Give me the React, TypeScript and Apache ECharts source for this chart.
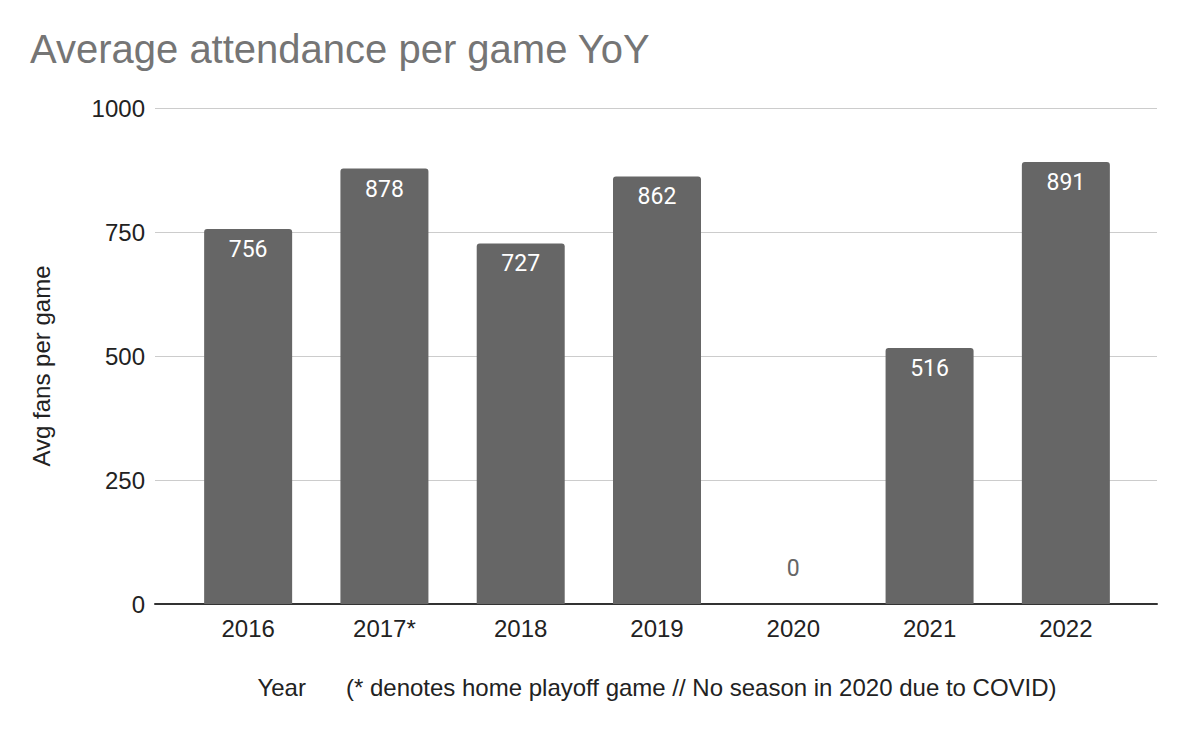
import React, { useEffect, useRef } from "react";
import * as echarts from "echarts";

const title = "Average attendance per game YoY";
const years = ["2016", "2017*", "2018", "2019", "2020", "2021", "2022"];
const attendance = [756, 878, 727, 862, 0, 516, 891];
const yTicks = { min: 0, max: 1000, interval: 250 };
const yAxisTitle = "Avg fans per game";
const xAxisTitle = "Year";
const xAxisNote = "(* denotes home playoff game // No season in 2020 due to COVID)";

export default function App() {
  const ref = useRef<HTMLDivElement>(null);
  useEffect(() => {
    document.body.style.margin = "0";
    const chart = echarts.init(ref.current!, null, { renderer: "svg" });
    const sans = "'Liberation Sans', Arial, sans-serif";
    const labelFont = "Roboto, 'Noto Sans', sans-serif";
    chart.setOption({
      animation: false,
      backgroundColor: "#ffffff",
      title: {
        text: title,
        left: 30,
        top: 29,
        padding: 0,
        textStyle: { fontFamily: sans, fontSize: 40, fontWeight: "normal", color: "#757575" },
      },
      grid: [
        { left: 155, right: 33, top: 108, bottom: 128 },
        { left: 180, right: 56, top: 108, bottom: 128 },
      ],
      xAxis: [
        {
          gridIndex: 0,
          type: "value",
          min: 0,
          max: 1,
          axisLine: { show: true, onZero: false, lineStyle: { color: "#333333", width: 2 } },
          axisTick: { show: false },
          axisLabel: { show: false },
          splitLine: { show: false },
        },
        {
          gridIndex: 1,
          type: "category",
          data: years,
          axisLine: { show: false },
          axisTick: { show: false },
          axisLabel: { fontFamily: sans, fontSize: 24, color: "#222222", margin: 12 },
          name: "{y|" + xAxisTitle + "}{n|" + xAxisNote + "}",
          nameLocation: "middle",
          nameGap: 71,
          nameTextStyle: {
            fontFamily: sans,
            fontSize: 24,
            color: "#222222",
            rich: {
              y: { fontFamily: sans, fontSize: 24, color: "#222222", padding: [0, 40, 0, 0] },
              n: { fontFamily: sans, fontSize: 24, color: "#222222" },
            },
          },
        },
      ],
      yAxis: [
        {
          gridIndex: 0,
          type: "value",
          min: yTicks.min,
          max: yTicks.max,
          interval: yTicks.interval,
          axisLine: { show: false },
          axisTick: { show: false },
          axisLabel: {
            fontFamily: sans,
            fontSize: 24,
            color: "#222222",
            margin: 10,
            formatter: (v: number) => String(v),
          },
          splitLine: { show: true, lineStyle: { color: "#cccccc", width: 1 } },
          name: yAxisTitle,
          nameLocation: "middle",
          nameRotate: 90,
          nameGap: 102,
          nameTextStyle: { fontFamily: sans, fontSize: 24, color: "#222222", padding: [0, 0, 0, -20] },
        },
        {
          gridIndex: 1,
          type: "value",
          min: yTicks.min,
          max: yTicks.max,
          interval: yTicks.interval,
          show: false,
        },
      ],
      series: [
        {
          type: "bar",
          xAxisIndex: 1,
          yAxisIndex: 1,
          barWidth: 88,
          itemStyle: { color: "#666666", borderRadius: [3, 3, 0, 0] },
          label: {
            show: true,
            position: "insideTop",
            distance: 9,
            color: "#ffffff",
            fontFamily: labelFont,
            fontSize: 23,
          },
          data: attendance.map((v) =>
            v === 0
              ? { value: v, label: { position: "top", distance: 24, color: "#666666" } }
              : v
          ),
        },
      ],
    });
    return () => chart.dispose();
  }, []);
  return <div ref={ref} style={{ width: 1190, height: 732 }} />;
}
